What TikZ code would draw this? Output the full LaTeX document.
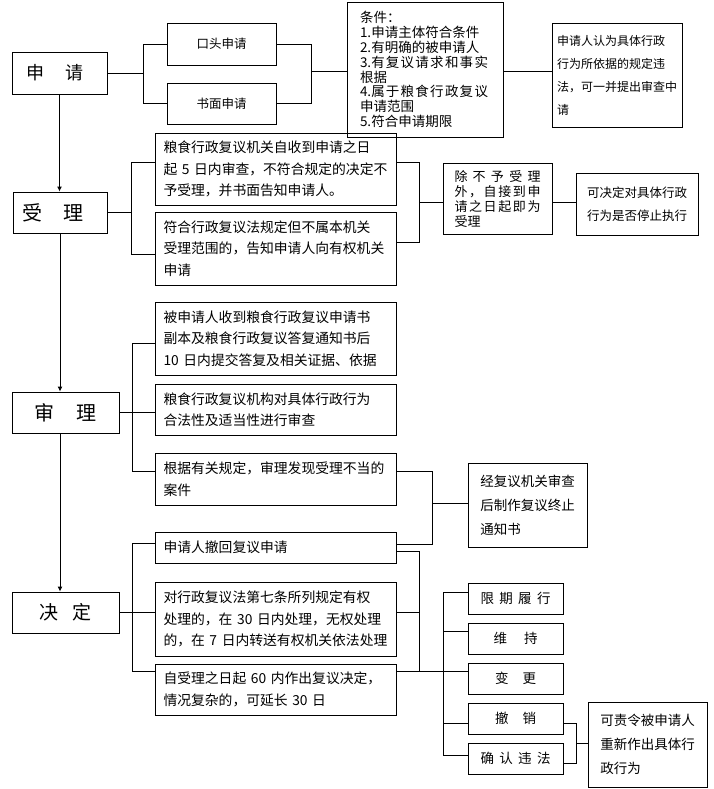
\documentclass[tikz,border=0pt]{standalone}
\usepackage{fontspec}
\setmainfont{Noto Sans CJK SC}
\usetikzlibrary{arrows.meta}
\begin{document}
\begin{tikzpicture}[x=1pt,y=-1pt,
  bx/.style={draw, line width=0.9pt, inner sep=0pt, rectangle},
  wide/.style={bx, minimum width=241pt, text width=224pt, align=left, font=\fontsize{13.8}{21.5}\selectfont},
  mainbox/.style={bx, minimum height=41pt},
  resbox/.style={bx, minimum width=95pt, minimum height=31pt, font=\fontsize{13.5}{15}\selectfont},
  ln/.style={line width=0.9pt},
  arr/.style={line width=0.9pt, -{Latex[length=5pt,width=5pt]}},
]
\useasboundingbox (0,0) rectangle (713,789);

% main column
\node[mainbox, minimum width=95pt, minimum height=42pt, font=\fontsize{18}{20}\selectfont] (sq) at (59.5,73) {申\hspace{22pt}请\hspace*{9pt}};
\node[mainbox, minimum width=94pt, font=\fontsize{20}{22}\selectfont] (sl) at (60,212.5) {受\hspace{20pt}理\hspace*{14pt}};
\node[mainbox, minimum width=107pt, font=\fontsize{20}{22}\selectfont] (sc) at (65.5,412.5) {审\hspace{22pt}理};
\node[mainbox, minimum width=107pt, font=\fontsize{19}{22}\selectfont] (jd) at (65.5,612.5) {决\hspace{15pt}定};

\draw[arr] (sq.south) -- (sq.south |- sl.north);
\draw[arr] (sl.south) -- (sl.south |- sc.north);
\draw[arr] (sl.south |- sc.south) -- (sl.south |- jd.north);

% top branch
\node[bx, minimum width=109pt, minimum height=42pt, font=\fontsize{12.5}{14}\selectfont] (kt) at (221.5,44) {口头申请};
\node[bx, minimum width=109pt, minimum height=41pt, font=\fontsize{12.5}{14}\selectfont] (sm) at (221.5,103.5) {书面申请};
\node[bx, minimum width=156pt, minimum height=135pt, text width=130pt, align=left, font=\fontsize{13.5}{14.8}\selectfont] (tj) at (425,69.5)
  {条件：\\1.申请主体符合条件\\2.有明确的被申请人\\\makebox[128pt][l]{3.有\hfill 复\hfill 议\hfill 请\hfill 求\hfill 和\hfill 事\hfill 实}\\根据\\\makebox[128pt][l]{4.属\hfill 于\hfill 粮\hfill 食\hfill 行\hfill 政\hfill 复\hfill 议}\\申请范围\\5.符合申请期限};
\node[bx, minimum width=130pt, minimum height=104pt, align=left, font=\fontsize{12}{23}\selectfont] (sqr) at (617,75)
  {申请人认为具体行政\\行为所依据的规定违\\法，可一并提出审查中\\请};

\coordinate (b1) at (143,73);
\draw[ln] (sq.east) -- (b1);
\draw[ln] (kt.west) -| (b1);
\draw[ln] (sm.west) -| (b1);
\coordinate (b2) at (311,71);
\draw[ln] (kt.east) -| (b2);
\draw[ln] (sm.east) -| (b2);
\draw[ln] (b2) -- (b2 -| tj.west);
\draw[ln] (tj.east |- b2) -- (b2 -| sqr.west);

% accept branch
\node[wide, minimum height=72pt] (sl1) at (275.5,169)
  {粮食行政复议机关自收到申请之日\\起 5 日内审查，不符合规定的决定不\\予受理，并书面告知申请人。};
\node[wide, minimum height=73pt] (sl2) at (275.5,248.5)
  {符合行政复议法规定但不属本机关\\受理范围的，告知申请人向有权机关\\申请};
\node[bx, minimum width=109pt, minimum height=71pt, align=left, font=\fontsize{13}{15}\selectfont] (cb) at (497.5,198.5)
  {\makebox[86pt][l]{除\hfill 不\hfill 予\hfill 受\hfill 理}\\\makebox[86pt][l]{外\hfill ，\hfill 自\hfill 接\hfill 到\hfill 申}\\\makebox[86pt][l]{请\hfill 之\hfill 日\hfill 起\hfill 即\hfill 为}\\受理};
\node[bx, minimum width=122pt, minimum height=62pt, align=left, font=\fontsize{12.5}{23}\selectfont] (kj) at (637,204)
  {可决定对具体行政\\行为是否停止执行};

\coordinate (c1) at (131,212.5);
\draw[ln] (sl.east) -- (c1);
\draw[ln] ([yshift=7pt]sl1.west) -| (c1);
\draw[ln] ([yshift=-5.5pt]sl2.west) -| (c1);
\coordinate (c2) at (419,202);
\draw[ln] ([yshift=7pt]sl1.east) -| (c2);
\draw[ln] ([yshift=6.5pt]sl2.east) -| (c2);
\draw[ln] (c2) -- (c2 -| cb.west);
\draw[ln] (cb.east |- c2) -- (c2 -| kj.west);

% review branch
\node[wide, minimum height=73pt] (sc1) at (275.5,338.5)
  {被申请人收到粮食行政复议申请书\\副本及粮食行政复议答复通知书后\\10 日内提交答复及相关证据、依据};
\node[wide, minimum height=51pt] (sc2) at (275.5,409.5)
  {粮食行政复议机构对具体行政行为\\合法性及适当性进行审查};
\node[wide, minimum height=52pt] (sc3) at (275.5,479)
  {根据有关规定，审理发现受理不当的\\案件};
\node[bx, minimum width=119pt, minimum height=84pt, align=left, font=\fontsize{13.5}{24}\selectfont] (jf) at (527.5,505)
  {经复议机关审查\\后制作复议终止\\通知书};

\coordinate (d1) at (132,412.5);
\draw[ln] (sc.east) -- (d1);
\draw[ln] ([yshift=-4.5pt]sc1.west) -| (d1);
\draw[ln] (d1) -- (d1 -| sc2.west);
\draw[ln] ([yshift=8pt]sc3.west) -| (d1);

% decision branch
\node[wide, minimum height=31pt] (jd1) at (275.5,547.5) {申请人撤回复议申请};
\node[wide, minimum height=74pt] (jd2) at (275.5,619)
  {对行政复议法第七条所列规定有权\\处理的，在 30 日内处理，无权处理\\的，在 7 日内转送有权机关依法处理};
\node[wide, minimum height=51pt] (jd3) at (275.5,689.5)
  {自受理之日起 60 内作出复议决定，\\情况复杂的，可延长 30 日};

\coordinate (d2) at (432,503);
\draw[ln] ([yshift=8pt]sc3.east) -| (d2);
\draw[ln] ([yshift=3.5pt]jd1.east) -| (d2);
\draw[ln] (d2) -- (d2 -| jf.west);

\coordinate (e1) at (132,612.5);
\draw[ln] (jd.east) -- (e1);
\draw[ln] ([yshift=4.5pt]jd1.west) -| (e1);
\draw[ln] (e1) -- (e1 -| jd2.west);
\draw[ln] ([yshift=18.5pt]jd3.west) -| (e1);

% results
\node[resbox] (r1) at (515.5,598.5) {\makebox[70pt][l]{限\hfill 期\hfill 履\hfill 行}};
\node[resbox] (r2) at (515.5,638.5) {维\hspace{17pt}持};
\node[resbox] (r3) at (515.5,678.5) {变\hspace{14pt}更};
\node[resbox] (r4) at (515.5,718.5) {撤\hspace{14pt}销};
\node[resbox] (r5) at (515.5,758.5) {\makebox[70pt][l]{确\hfill 认\hfill 违\hfill 法}};
\node[bx, minimum width=119pt, minimum height=85pt, align=left, font=\fontsize{13.5}{24}\selectfont] (kz) at (647.5,744.5)
  {可责令被申请人\\重新作出具体行\\政行为};

\coordinate (e2) at (419,671);
\coordinate (e3) at (443,671);
\draw[ln] ([yshift=-3.5pt]jd1.east) -| (e2);
\draw[ln] ([yshift=7pt]jd2.east) -| (e2);
\draw[ln] ([yshift=18.5pt]jd3.east) -- (e3);
\draw[ln] ([yshift=6.5pt]r1.west) -| (e3);
\draw[ln] ([yshift=7.5pt]r2.west) -| (e3);
\draw[ln] (e3) -- (e3 -| r3.west);
\draw[ln] ([yshift=-4.5pt]r4.west) -| (e3);
\draw[ln] ([yshift=3.5pt]r5.west) -| (e3);

\coordinate (f1) at (576,743);
\draw[ln] ([yshift=-4.5pt]r4.east) -| (f1);
\draw[ln] ([yshift=-4.5pt]r5.east) -| (f1);
\draw[ln] (f1) -- (f1 -| kz.west);
\end{tikzpicture}
\end{document}
